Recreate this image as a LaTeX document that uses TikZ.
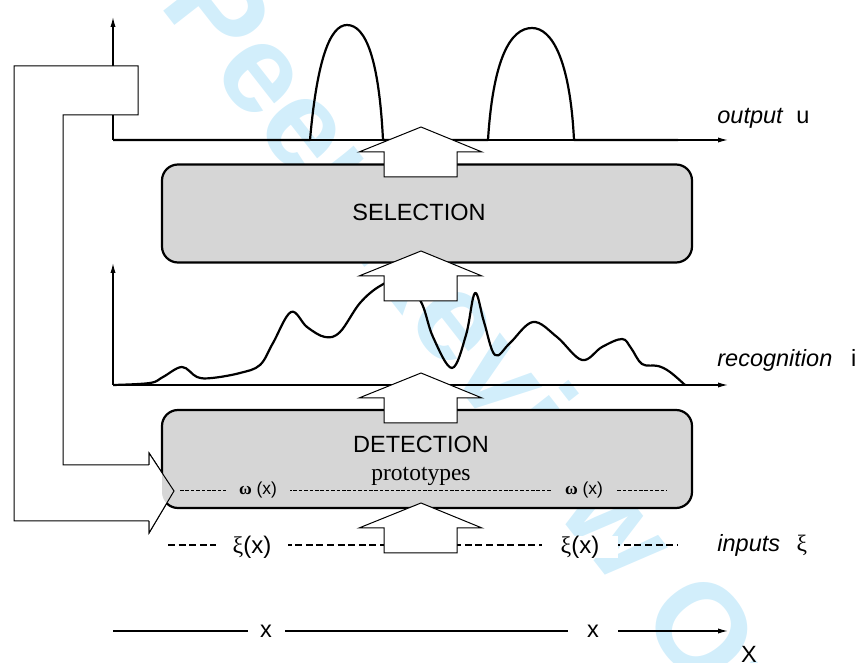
\documentclass[tikz,border=0pt]{standalone}
\usepackage{fontspec}
\setmainfont{Liberation Sans}
\newfontfamily\tmsfont{Liberation Serif}
\usetikzlibrary{arrows.meta}

\definecolor{boxgray}{RGB}{214,214,214}
\definecolor{wmcyan}{RGB}{210,238,251}

\tikzset{ax/.style={line width=0.6pt, -{Latex[length=5pt,width=2.6pt]}}}
\tikzset{crv/.style={line width=1.1pt, line join=round}}
\tikzset{stage/.style={draw, line width=1.1pt, fill=boxgray, rounded corners=8pt, minimum width=265pt, minimum height=49pt, inner sep=0pt}}
\tikzset{blk/.style={draw, line width=0.5pt, fill=white}}

\begin{document}
\begin{tikzpicture}[x=0.5pt,y=-0.5pt,
    txt/.style={font=\fontsize{11.75}{14}\selectfont, inner sep=0pt},
    omlbl/.style={font=\fontsize{8.7}{10}\selectfont, fill=boxgray, inner sep=0pt, minimum height=8pt, minimum width=32pt},
    xilbl/.style={font=\fontsize{12}{14}\selectfont, fill=white, inner sep=0pt, minimum height=10pt},
    xlbl/.style={txt, fill=white, minimum height=8pt},
    fb/.style={draw, line width=0.5pt, fill=white}]

    \useasboundingbox (0,0) rectangle (858,663);

    \begin{scope}
        \clip (0,0) rectangle (858,663);
        \node[rotate=-52, text=wmcyan, font=\fontsize{63}{68}\selectfont\bfseries] (wm) at (437,307) {For Peer Review Only};
    \end{scope}

    \coordinate (u0) at (113,140);
    \coordinate (uy) at (113,17);
    \coordinate (ux) at (728,140);
    \coordinate (i0) at (113,385);
    \coordinate (iy) at (113,263);
    \coordinate (ix) at (728,385);
    \coordinate (x0) at (113,631);
    \coordinate (xx) at (728,631);

    \draw[ax] (u0) -- (uy);
    \draw[ax] (u0) -- (ux);
    \draw[ax] (i0) -- (iy);
    \draw[ax] (i0) -- (ix);

    \draw[crv] (u0) -- (310,140) .. controls (317,60) and (330,25) .. (347,25)
        .. controls (366,25) and (379,60) .. (383,140) -- (488,140)
        .. controls (493,60) and (510,28) .. (532,28)
        .. controls (552,28) and (570,60) .. (574,140) -- (678,140);

    \draw[crv] plot[smooth, tension=0.6] coordinates {(113,385) (150,383) (163,377) (182,367) (197,377) (212,378) (240,373) (260,365) (273,343) (291,312) (307,327) (325,337) (340,332) (360,303) (380,286) (398,281) (420,300) (433,337) (452,368) (466,335) (475,293) (484,322) (495,355) (510,343) (533,322) (557,337) (582,360) (602,347) (622,339) (631,348) (642,364) (658,366) (670,372) (685,385)};

    \draw[fb] (14,66) -- (138,66) -- (138,115) -- (63,115) -- (63,465) -- (149,465) -- (149,453) -- (174,491) -- (149,533) -- (149,521) -- (14,521) -- cycle;

    \node[stage] (sel) at (427,213.5) {};
    \node[stage] (det) at (427,459) {};

    \fill[white] (149,453) -- (174,491) -- (149,533) -- cycle;
    \begin{scope}
        \clip[rounded corners=8pt] (162,410) rectangle (692,508);
        \fill[boxgray] (149,453) -- (174,491) -- (149,533) -- cycle;
    \end{scope}
    \draw[line width=0.5pt] (149,465) -- (149,453) -- (174,491) -- (149,533) -- (149,521);

    \coordinate (oma) at (180,490);
    \coordinate (omb) at (667,490);
    \draw[line width=0.4pt, dash pattern=on 1.8pt off 0.9pt] (oma) -- (omb);
    \node[omlbl] (om1) at (258,490) {{\tmsfont\bfseries ω}\ (x)};
    \node[omlbl] (om2) at (584,490) {{\tmsfont\bfseries ω}\ (x)};

    \coordinate (xia) at (168,545);
    \coordinate (xib) at (678,545);
    \draw[line width=0.75pt, dash pattern=on 3.5pt off 1.8pt] (xia) -- (xib);
    \node[xilbl, minimum width=36pt] (xi1) at (252,547) {{\tmsfont ξ}(x)};
    \node[xilbl, minimum width=38pt] (xi2) at (580,547) {{\tmsfont ξ}(x)};

    \draw[ax] (x0) -- (xx);
    \node[xlbl, minimum width=18.5pt] (x1) at (266,631) {x};
    \node[xlbl, minimum width=25pt] (x2) at (593,631) {x};

    \foreach \ty in {127,251,373,503}
        \draw[blk] (384,\ty+50) -- (384,\ty+25) -- (359,\ty+25) -- (421,\ty) -- (482,\ty+25) -- (457,\ty+25) -- (457,\ty+50) -- cycle;

    \node[txt] (seltxt) at (419,212) {SELECTION};
    \node[txt] (dettxt) at (421,444) {DETECTION};
    \node[txt] (proto) at (421,476) {\tmsfont prototypes};

    \node[txt, anchor=base west] (outlbl) at (717,124) {\textit{output}\hspace{0.55em}u};
    \node[txt, anchor=base west] (reclbl) at (717,367) {\textit{recognition}\hspace{0.8em}i};
    \node[txt, anchor=base west] (inlbl) at (717,552) {\textit{inputs}\hspace{0.7em}{\tmsfont ξ}};
    \node[txt, anchor=base] (bigx) at (749,662) {X};
\end{tikzpicture}
\end{document}
